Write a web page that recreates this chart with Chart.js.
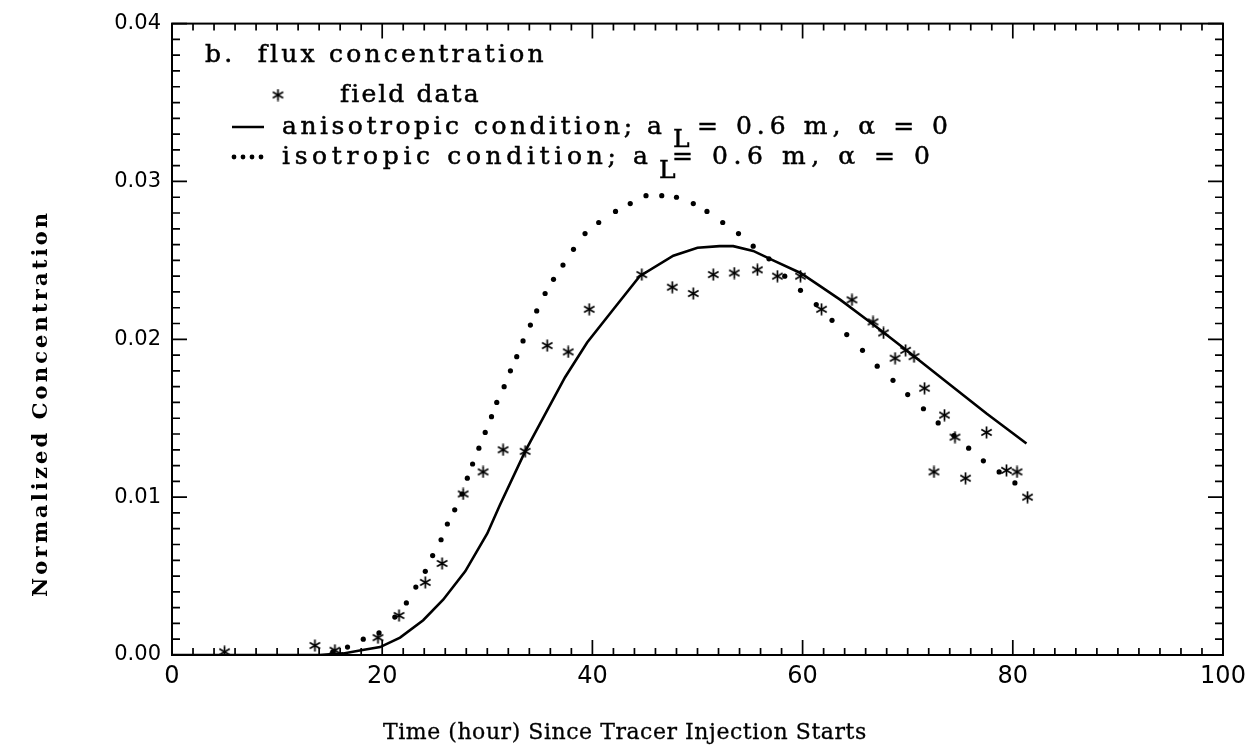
<!DOCTYPE html>
<html>
<head>
<meta charset="utf-8">
<script src="https://cdn.jsdelivr.net/npm/chart.js@4.4.1/dist/chart.umd.min.js"></script>
<style>
  html, body { margin: 0; padding: 0; background: #fff; }
</style>
</head>
<body>
<canvas id="chart" width="1256" height="746"></canvas>
<script>
// field data (asterisks)
const fieldTime = [5.0, 13.6, 15.5, 19.6, 21.6, 24.1, 25.7, 27.7, 29.6, 31.5, 33.6, 35.7, 37.7, 39.7,
  44.7, 47.6, 49.6, 51.5, 53.5, 55.7, 57.6, 59.8, 61.8, 64.7, 66.7, 67.7, 68.8, 69.8, 70.6, 71.6,
  72.5, 73.5, 74.5, 75.5, 77.5, 79.4, 80.4, 81.4];
const fieldConc = [0.0002, 0.0006, 0.0003, 0.0011, 0.0025, 0.0046, 0.0058, 0.0102, 0.0116, 0.0130, 0.0129, 0.0196, 0.0192, 0.0219,
  0.0241, 0.0233, 0.0229, 0.0241, 0.0242, 0.0244, 0.0240, 0.0240, 0.0219, 0.0225, 0.0211, 0.0204, 0.0188, 0.0193, 0.0189, 0.0169,
  0.0116, 0.0152, 0.0138, 0.0112, 0.0141, 0.0117, 0.0116, 0.0100];

// anisotropic model (solid line)
const anisoTime = [0, 14, 16.3, 18, 19.8, 21.7, 23.9, 25.8, 27.9, 30.0, 31.2, 33.6, 35.3, 37.4, 39.5, 42.0, 44.5,
  47.7, 50.0, 52.1, 53.4, 55.3, 57.2, 59.8, 61.6, 63.6, 66.6, 69.7, 73.7, 77.5, 81.3];
const anisoConc = [0, 0, 0.0001, 0.0003, 0.0005, 0.0011, 0.0022, 0.0035, 0.0053, 0.0077, 0.0095, 0.0129, 0.0150, 0.0176, 0.0198, 0.0219, 0.0240,
  0.0253, 0.0258, 0.0259, 0.0259, 0.0256, 0.0250, 0.0242, 0.0234, 0.0225, 0.0210, 0.0194, 0.0173, 0.0153, 0.0134];

// isotropic model (dotted)
const isoTime = [15.3, 16.7, 18.2, 19.7, 21.2, 22.3, 23.2, 24.1, 24.8, 25.6, 26.2, 26.9, 27.6, 28.1, 28.6, 29.2, 29.8,
  30.4, 30.9, 31.6, 32.2, 32.8, 33.4, 34.1, 34.7, 35.5, 36.3, 37.2, 38.2, 39.3, 40.6, 42.2, 43.6, 45.1, 46.6,
  48.0, 49.6, 50.9, 52.4, 53.9, 55.3, 56.8, 58.3, 59.8, 61.3, 62.8, 64.2, 65.7, 67.1, 68.6, 70.0, 71.5, 72.9,
  74.4, 75.8, 77.2, 78.7, 80.2];
const isoConc = [0.0002, 0.0005, 0.0010, 0.0014, 0.0024, 0.0033, 0.0043, 0.0053, 0.0063, 0.0073, 0.0083, 0.0092, 0.0102, 0.0112, 0.0121, 0.0131, 0.0141,
  0.0151, 0.0160, 0.0170, 0.0180, 0.0189, 0.0199, 0.0209, 0.0218, 0.0229, 0.0238, 0.0247, 0.0257, 0.0267, 0.0274, 0.0281, 0.0286, 0.0291, 0.0291,
  0.0290, 0.0286, 0.0281, 0.0274, 0.0267, 0.0259, 0.0251, 0.0240, 0.0231, 0.0222, 0.0212, 0.0203, 0.0193, 0.0183, 0.0174, 0.0165, 0.0156, 0.0147,
  0.0139, 0.0131, 0.0123, 0.0116, 0.0109];

const xTicks = [0, 20, 40, 60, 80, 100];
const yTicks = [0.00, 0.01, 0.02, 0.03, 0.04];

const panelLabel = 'b.  flux concentration';
const fieldLabel = 'field data';
const anisoLabel = ['anisotropic condition; a', 'L', '= 0.6 m, \u03b1 = 0'];
const isoLabel = ['isotropic condition; a', 'L', '= 0.6 m, \u03b1 = 0'];
const xTitle = 'Time (hour) Since Tracer Injection Starts';
const yTitle = 'Normalized Concentration';

const toXY = (xs, ys) => xs.map((t, i) => ({ x: t, y: ys[i] }));

// six-armed asterisk used for the field data
function makeStar(size, lw) {
  const c = document.createElement('canvas');
  c.width = c.height = size;
  const g = c.getContext('2d');
  g.strokeStyle = '#000';
  g.lineWidth = lw;
  const r = size / 2 - 0.5, m = size / 2;
  for (let k = 0; k < 3; k++) {
    const a = Math.PI / 2 + k * Math.PI / 3;
    g.beginPath();
    g.moveTo(m + r * Math.cos(a), m + r * Math.sin(a));
    g.lineTo(m - r * Math.cos(a), m - r * Math.sin(a));
    g.stroke();
  }
  return c;
}
const star = makeStar(13, 1.7);

// draws text so it spans x0..x1, slightly emboldened like the scanned original
function fitText(ctx, str, x0, x1, y, font, weight) {
  ctx.font = font;
  ctx.letterSpacing = '0px';
  const w = ctx.measureText(str).width;
  const sp = (x1 - x0 - w) / Math.max(1, str.length - 1);
  ctx.letterSpacing = sp.toFixed(2) + 'px';
  ctx.textAlign = 'left';
  ctx.textBaseline = 'middle';
  ctx.fillText(str, x0, y);
  if (weight) {
    ctx.lineWidth = weight;
    ctx.strokeText(str, x0, y);
  }
  ctx.letterSpacing = '0px';
}

const SERIF = '25px "DejaVu Serif"';

const decorations = {
  id: 'decorations',
  afterDraw(chart) {
    const { ctx, chartArea: a, scales: { x, y } } = chart;
    ctx.save();
    ctx.strokeStyle = '#000';
    ctx.fillStyle = '#000';

    // frame
    ctx.lineWidth = 2;
    ctx.strokeRect(a.left, a.top, a.right - a.left, a.bottom - a.top);

    // inward ticks on all four sides
    ctx.lineWidth = 1.7;
    ctx.beginPath();
    for (let t = 0; t <= 100; t += 2) {
      const px = x.getPixelForValue(t);
      const len = t % 20 === 0 ? 15 : 7;
      ctx.moveTo(px, a.bottom); ctx.lineTo(px, a.bottom - len);
      ctx.moveTo(px, a.top); ctx.lineTo(px, a.top + len);
    }
    for (let i = 0; i <= 40; i++) {
      const py = y.getPixelForValue(i / 1000);
      const len = i % 10 === 0 ? 15 : 8;
      ctx.moveTo(a.left, py); ctx.lineTo(a.left + len, py);
      ctx.moveTo(a.right, py); ctx.lineTo(a.right - len, py);
    }
    ctx.stroke();

    // legend block
    fitText(ctx, panelLabel, 205, 543, 55, SERIF, 0.5);
    ctx.drawImage(star, 278 - star.width / 2, 95 - star.height / 2);
    fitText(ctx, fieldLabel, 340, 478, 95, SERIF, 0.5);

    ctx.lineWidth = 2.5;
    ctx.beginPath(); ctx.moveTo(232, 127); ctx.lineTo(264, 127); ctx.stroke();
    fitText(ctx, anisoLabel[0], 282, 662, 127, SERIF, 0.5);
    fitText(ctx, anisoLabel[1], 673, 688, 140, SERIF, 0.5);
    fitText(ctx, anisoLabel[2], 697, 948, 127, SERIF, 0.5);

    [234, 243, 252, 261].forEach(px => {
      ctx.beginPath(); ctx.arc(px, 157, 2.4, 0, Math.PI * 2); ctx.fill();
    });
    fitText(ctx, isoLabel[0], 282, 648, 157, SERIF, 0.5);
    fitText(ctx, isoLabel[1], 659, 674, 171, SERIF, 0.5);
    fitText(ctx, isoLabel[2], 672, 930, 157, SERIF, 0.5);

    // axis titles
    fitText(ctx, xTitle, 383, 866, 733, '22px "DejaVu Serif"', 0.3);
    ctx.translate(42, 405);
    ctx.rotate(-Math.PI / 2);
    fitText(ctx, yTitle, -192, 192, 0, 'bold 21px "DejaVu Serif"');
    ctx.restore();
  }
};

new Chart(document.getElementById('chart'), {
  type: 'scatter',
  data: {
    datasets: [
      {
        label: 'anisotropic condition',
        data: toXY(anisoTime, anisoConc),
        showLine: true,
        borderColor: '#000',
        borderWidth: 2.6,
        pointRadius: 0,
        tension: 0
      },
      {
        label: 'isotropic condition',
        data: toXY(isoTime, isoConc),
        showLine: false,
        pointRadius: 2.6,
        pointBackgroundColor: '#000',
        pointBorderWidth: 0
      },
      {
        label: 'field data',
        data: toXY(fieldTime, fieldConc),
        showLine: false,
        pointStyle: star,
        pointRadius: 6
      }
    ]
  },
  options: {
    responsive: false,
    animation: false,
    layout: { padding: { top: 18, right: 33, left: 0, bottom: 0 } },
    plugins: { legend: { display: false }, tooltip: { enabled: false } },
    scales: {
      x: {
        type: 'linear',
        min: 0,
        max: 100,
        afterBuildTicks: s => { s.ticks = xTicks.map(v => ({ value: v })); },
        ticks: { color: '#000', font: { family: 'DejaVu Sans', size: 24 }, padding: 7, maxRotation: 0 },
        grid: { display: false, drawTicks: false },
        border: { display: false },
        afterFit: s => { s.height = 91; }
      },
      y: {
        type: 'linear',
        min: 0,
        max: 0.04,
        afterBuildTicks: s => { s.ticks = yTicks.map(v => ({ value: v })); },
        ticks: { color: '#000', font: { family: 'DejaVu Sans', size: 21 }, padding: 11, callback: v => v.toFixed(2) },
        grid: { display: false, drawTicks: false },
        border: { display: false },
        afterFit: s => { s.width = 172; }
      }
    }
  },
  plugins: [decorations]
});
</script>
</body>
</html>
